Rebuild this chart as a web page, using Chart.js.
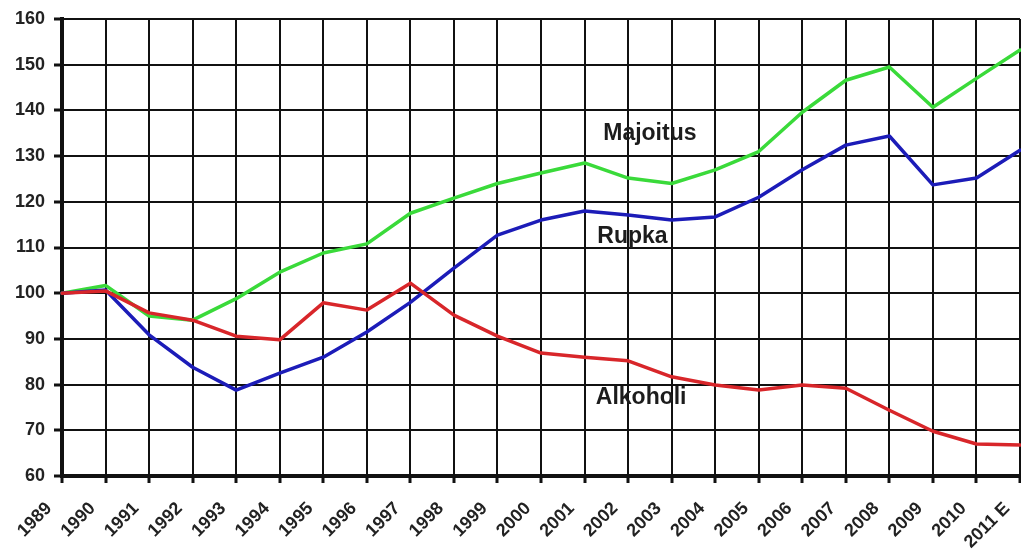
<!DOCTYPE html>
<html>
<head>
<meta charset="utf-8">
<title>Majoitus, Rupka, Alkoholi 1989–2011 E</title>
<script src="https://cdn.jsdelivr.net/npm/chart.js@4/dist/chart.umd.min.js"></script>
<style>
  html, body { margin: 0; padding: 0; background: #ffffff; overflow: hidden; }
  #chart { display: block; }
</style>
</head>
<body>
<canvas id="chart" width="1021" height="553"></canvas>
<script>
// Index series, 1989 = 100
const years = ['1989','1990','1991','1992','1993','1994','1995','1996','1997','1998','1999',
               '2000','2001','2002','2003','2004','2005','2006','2007','2008','2009','2010','2011 E'];

const majoitus = [100, 101.7, 95, 94.1, 98.8, 104.6, 108.8, 110.8, 117.5, 120.8, 124,
                  126.3, 128.5, 125.2, 124, 127, 131, 139.6, 146.6, 149.5, 140.7, 147, 153.2];

const rupka = [100, 100.7, 90.9, 83.8, 78.8, 82.5, 86, 91.5, 98, 105.5, 112.7,
               116, 118, 117.1, 116, 116.7, 121, 127, 132.4, 134.4, 123.7, 125.2, 131.3];

const alkoholi = [100, 100.5, 95.7, 94.1, 90.6, 89.8, 97.9, 96.3, 102.2, 95.2, 90.6,
                  86.9, 86, 85.2, 81.7, 79.9, 78.8, 79.9, 79.2, 74.4, 69.8, 67, 66.8];

// Y axis range and step
const yMin = 60;
const yMax = 160;
const yStep = 10;

// In-plot series names: text, category position (fractional index), value
const seriesNames = ['Majoitus', 'Rupka', 'Alkoholi'];
const namePositions = [13.5, 13.1, 13.3];
const nameValues = [135, 112.3, 77.1];

const FONT = '"Liberation Sans", Arial, Helvetica, sans-serif';

const seriesLabelsPlugin = {
  id: 'seriesLabels',
  afterDatasetsDraw(chart) {
    const { ctx, scales: { x, y } } = chart;
    ctx.save();
    ctx.font = 'bold 23px ' + FONT;
    ctx.fillStyle = '#1c1c1c';
    ctx.textAlign = 'center';
    ctx.textBaseline = 'middle';
    seriesNames.forEach((name, i) => {
      const left = x.getPixelForValue(Math.floor(namePositions[i]));
      const right = x.getPixelForValue(Math.floor(namePositions[i]) + 1);
      const px = left + (right - left) * (namePositions[i] % 1);
      ctx.fillText(name, px, y.getPixelForValue(nameValues[i]));
    });
    ctx.restore();
  }
};

new Chart(document.getElementById('chart'), {
  type: 'line',
  data: {
    labels: years,
    datasets: [
      { label: 'Alkoholi', data: alkoholi, borderColor: '#d8262a', borderWidth: 3.5 },
      { label: 'Rupka', data: rupka, borderColor: '#1c1cb8', borderWidth: 3.5 },
      { label: 'Majoitus', data: majoitus, borderColor: '#3ada3a', borderWidth: 3.5 }
    ]
  },
  options: {
    responsive: false,
    animation: false,
    devicePixelRatio: 1,
    layout: { padding: { top: 19, right: 1, left: 0, bottom: 0 } },
    elements: {
      point: { radius: 0, hoverRadius: 0 },
      line: { tension: 0, borderCapStyle: 'round', borderJoinStyle: 'round' }
    },
    plugins: {
      legend: { display: false },
      tooltip: { enabled: false },
      title: { display: false }
    },
    scales: {
      x: {
        type: 'category',
        offset: false,
        grid: { color: '#111', lineWidth: 2, tickLength: 7, tickWidth: 3, tickColor: '#111' },
        border: { display: true, color: '#111', width: 4 },
        ticks: {
          autoSkip: false,
          maxRotation: 45,
          minRotation: 45,
          padding: 15,
          labelOffset: -13,
          color: '#222',
          font: { family: FONT, size: 18, weight: 'bold' }
        },
        afterFit(scale) {
          scale.height = 77;
          scale.paddingLeft = 0;
          scale.paddingRight = 0;
        }
      },
      y: {
        min: yMin,
        max: yMax,
        grid: { color: '#111', lineWidth: 2, tickLength: 8, tickWidth: 3, tickColor: '#111' },
        border: { display: true, color: '#111', width: 4 },
        ticks: {
          stepSize: yStep,
          padding: 9,
          color: '#222',
          font: { family: FONT, size: 18, weight: 'bold' }
        },
        afterFit(scale) {
          scale.width = 62;
          scale.paddingTop = 0;
          scale.paddingBottom = 0;
        }
      }
    }
  },
  plugins: [seriesLabelsPlugin]
});
</script>
</body>
</html>
